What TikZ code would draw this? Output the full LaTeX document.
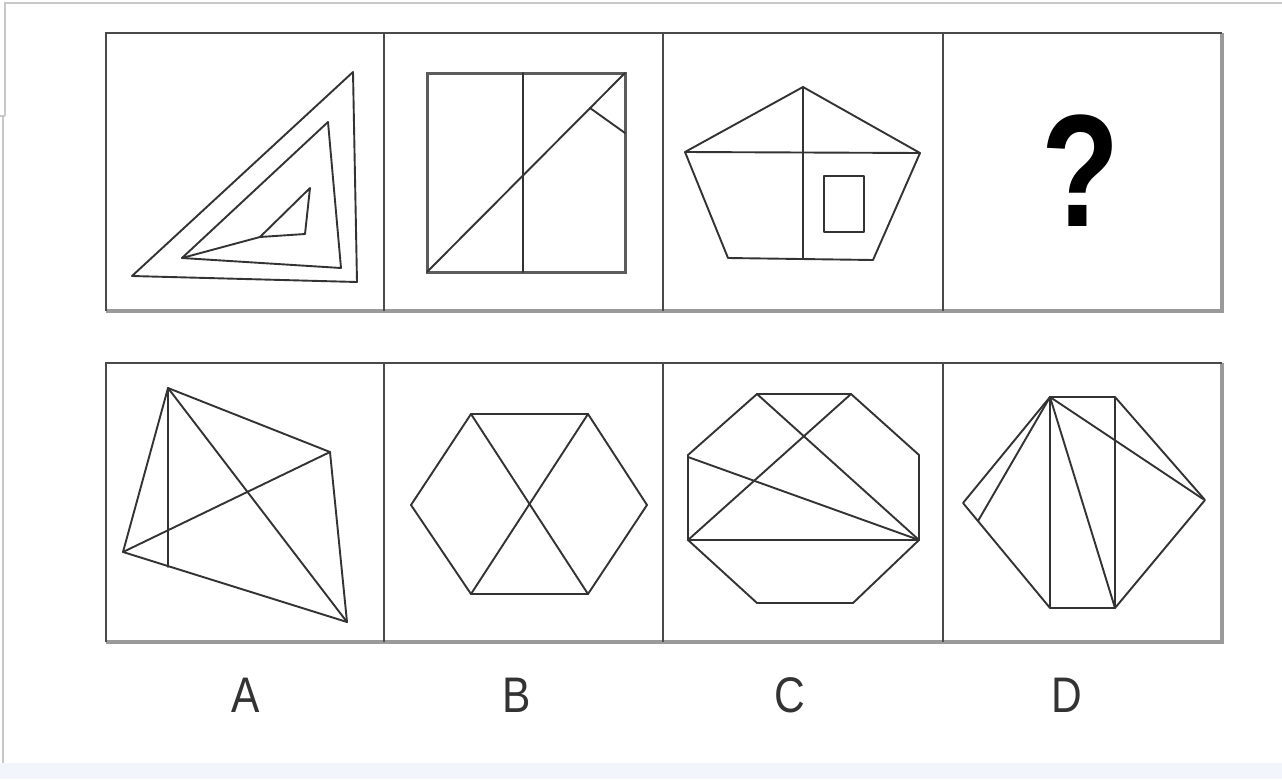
\documentclass[tikz,border=0pt]{standalone}
\usepackage{fontspec}
\setmainfont{Liberation Sans}
\definecolor{figc}{HTML}{333333}
\definecolor{boxc}{HTML}{4A4A4A}
\definecolor{shadc}{HTML}{9A9A9A}
\definecolor{framec}{HTML}{C8C8C8}
\definecolor{bandc}{HTML}{F2F6FC}
\begin{document}
\begin{tikzpicture}[x=1pt,y=-1pt,
  fig/.style={draw=figc, line width=1.9pt, line join=round, line cap=round},
  thickfig/.style={draw=figc!80, line width=3pt, line join=miter},
  boxline/.style={draw=boxc, line width=1.8pt},
  shadline/.style={draw=shadc, line width=4.5pt},
  frameline/.style={draw=framec, line width=1.2pt},
  lab/.style={font=\fontsize{50}{50}\selectfont, text=black!80, inner sep=0pt}]
\useasboundingbox (0,0) rectangle (1282,779);
\fill[white] (0,0) rectangle (1282,779);
% outer page frame and bottom band
\fill[bandc] (0,763) rectangle (1282,779);
\draw[frameline] (5,116) -- (5,3) -- (1282,3);
\draw[frameline] (0,116) -- (5,116);
\draw[frameline] (3,116) -- (3,763);

% ---------- top row box ----------
\draw[shadline] (106,311) -- (1222,311) -- (1222,33);
\draw[boxline] (106,311) -- (106,33) -- (1222,33);
\foreach \x in {384,663,943} \draw[boxline] (\x,33) -- (\x,311);

% panel 1: nested triangles
\draw[fig] (132,276) -- (353,72) -- (357,282) -- cycle;
\draw[fig] (182,258) -- (328,122) -- (341,268) -- cycle;
\draw[fig] (182,258) -- (260,237);
\draw[fig] (260,237) -- (310,188) -- (305,234) -- cycle;

% panel 2: square with lines
\draw[thickfig] (427,73) rectangle (625,272);
\draw[fig] (523,73) -- (523,272);
\draw[fig] (427,272) -- (625,73);
\draw[fig] (590,108) -- (625,133);

% panel 3: pentagon
\draw[fig] (803,87) -- (920,153) -- (873,260) -- (728,258) -- (685,152) -- cycle;
\draw[fig] (685,152) -- (920,153);
\draw[fig] (803,87) -- (803,259);
\draw[fig] (824,176) rectangle (864,232);

% panel 4: question mark
\node[font=\bfseries\fontsize{160}{160}\selectfont, text=black, inner sep=0pt] (q) at (1081,171) {\scalebox{0.8}[1]{?}};

% ---------- bottom row box ----------
\draw[shadline] (106,642) -- (1222,642) -- (1222,363);
\draw[boxline] (106,642) -- (106,363) -- (1222,363);
\foreach \x in {384,663,943} \draw[boxline] (\x,363) -- (\x,642);

% A
\draw[fig] (168,388) -- (330,452) -- (347,622) -- (123,552) -- cycle;
\draw[fig] (168,388) -- (347,622);
\draw[fig] (123,552) -- (330,452);
\draw[fig] (168,388) -- (168,567);

% B
\draw[fig] (471,414) -- (588,414) -- (647,505) -- (588,594) -- (471,594) -- (411,505) -- cycle;
\draw[fig] (471,414) -- (588,594);
\draw[fig] (588,414) -- (471,594);

% C
\draw[fig] (757,394) -- (851,394) -- (919,455) -- (919,540) -- (853,603) -- (757,603) -- (688,540) -- (688,455) -- cycle;
\draw[fig] (688,540) -- (919,540);
\draw[fig] (688,457) -- (919,540);
\draw[fig] (757,394) -- (919,540);
\draw[fig] (851,394) -- (688,540);

% D
\draw[fig] (1050,397) rectangle (1115,608);
\draw[fig] (1050,397) -- (963,503) -- (1050,608);
\draw[fig] (1115,397) -- (1205,500) -- (1115,608);
\draw[fig] (1050,397) -- (978,521);
\draw[fig] (1050,397) -- (1115,608);
\draw[fig] (1050,397) -- (1203,499);

% labels
\node[lab] (la) at (246,695) {\scalebox{0.85}[1]{A}};
\node[lab] (lb) at (517,695) {\scalebox{0.85}[1]{B}};
\node[lab] (lc) at (790,695) {\scalebox{0.85}[1]{C}};
\node[lab] (ld) at (1067,695) {\scalebox{0.85}[1]{D}};
\end{tikzpicture}
\end{document}
